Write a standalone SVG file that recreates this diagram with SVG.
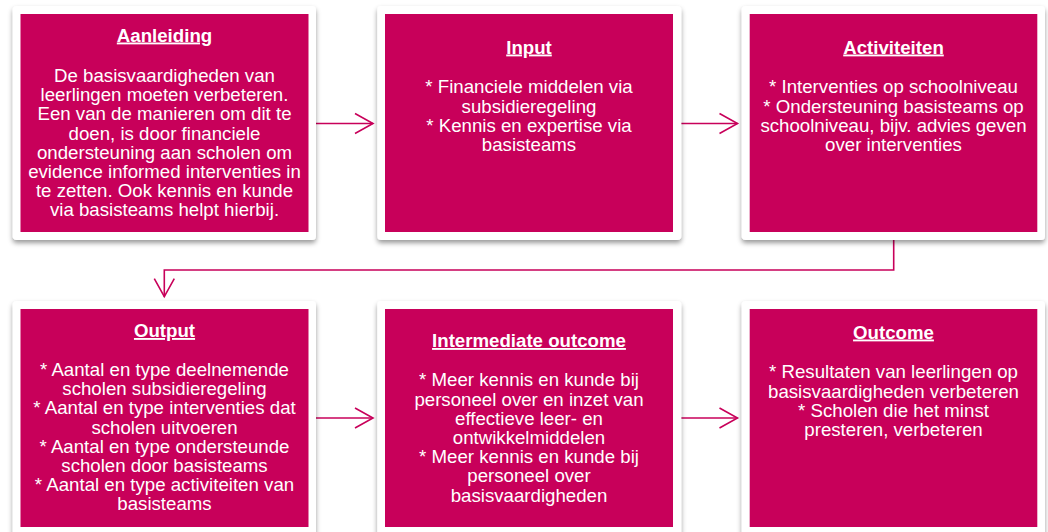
<svg xmlns="http://www.w3.org/2000/svg" width="1048" height="532" viewBox="0 0 1048 532">
  <defs>
    <filter id="sh" x="-10%" y="-10%" width="120%" height="125%">
      <feDropShadow dx="0" dy="3" stdDeviation="2.5" flood-color="#000" flood-opacity="0.4"/>
    </filter>
    <marker id="arr" markerUnits="userSpaceOnUse" markerWidth="22" markerHeight="24" viewBox="0 0 22 24" refX="20" refY="12" orient="auto">
      <path d="M2,2 L20,12 L2,22" fill="none" stroke="#C8005A" stroke-width="1.6"/>
    </marker>
    <style>
      .card { fill: #ffffff; filter: url(#sh); }
      .inner { fill: #C8005A; }
      .t { font-family: "Liberation Sans", Arial, sans-serif; font-size: 18.67px; fill: #ffffff; text-anchor: middle; }
      .h { font-weight: bold; text-decoration: underline; }
      .c { fill: none; stroke: #C8005A; stroke-width: 1.6; marker-end: url(#arr); }
    </style>
  </defs>

  <g id="connectors">
    <line class="c" x1="316" y1="123.5" x2="373" y2="123.5"/>
    <line class="c" x1="681" y1="123.5" x2="737.5" y2="123.5"/>
    <polyline class="c" points="893.7,238 893.7,270 164.3,270 164.3,296.7"/>
    <line class="c" x1="316" y1="418" x2="373" y2="418"/>
    <line class="c" x1="681" y1="418" x2="737.5" y2="418"/>
  </g>

  <g id="aanleiding">
    <rect class="card" x="12.7" y="6" width="303.3" height="234" rx="4"/>
    <rect class="inner" x="20.5" y="14" width="288" height="218"/>
    <text class="t h" x="164.5" y="41.5">Aanleiding</text>
    <text class="t" x="164.5" y="82">De basisvaardigheden van</text>
    <text class="t" x="164.5" y="101.2">leerlingen moeten verbeteren.</text>
    <text class="t" x="164.5" y="120.4">Een van de manieren om dit te</text>
    <text class="t" x="164.5" y="139.6">doen, is door financiele</text>
    <text class="t" x="164.5" y="158.8">ondersteuning aan scholen om</text>
    <text class="t" x="164.5" y="178">evidence informed interventies in</text>
    <text class="t" x="164.5" y="197.2">te zetten. Ook kennis en kunde</text>
    <text class="t" x="164.5" y="216.4">via basisteams helpt hierbij.</text>
  </g>

  <g id="input">
    <rect class="card" x="377.3" y="6" width="304" height="234" rx="4"/>
    <rect class="inner" x="385" y="14" width="288" height="218"/>
    <text class="t h" x="529" y="53.5">Input</text>
    <text class="t" x="529" y="93.3">* Financiele middelen via</text>
    <text class="t" x="529" y="112.5">subsidieregeling</text>
    <text class="t" x="529" y="131.7">* Kennis en expertise via</text>
    <text class="t" x="529" y="150.9">basisteams</text>
  </g>

  <g id="activiteiten">
    <rect class="card" x="741.7" y="6" width="303.3" height="234" rx="4"/>
    <rect class="inner" x="749.7" y="14" width="287.6" height="218"/>
    <text class="t h" x="893.5" y="53.5">Activiteiten</text>
    <text class="t" x="893.5" y="93.3">* Interventies op schoolniveau</text>
    <text class="t" x="893.5" y="112.5">* Ondersteuning basisteams op</text>
    <text class="t" x="893.5" y="131.7">schoolniveau, bijv. advies geven</text>
    <text class="t" x="893.5" y="150.9">over interventies</text>
  </g>

  <g id="output">
    <rect class="card" x="12.7" y="301" width="303.3" height="240" rx="4"/>
    <rect class="inner" x="20.5" y="309" width="288" height="218"/>
    <text class="t h" x="164.5" y="337">Output</text>
    <text class="t" x="164.5" y="376">* Aantal en type deelnemende</text>
    <text class="t" x="164.5" y="395.2">scholen subsidieregeling</text>
    <text class="t" x="164.5" y="414.4">* Aantal en type interventies dat</text>
    <text class="t" x="164.5" y="433.6">scholen uitvoeren</text>
    <text class="t" x="164.5" y="452.8">* Aantal en type ondersteunde</text>
    <text class="t" x="164.5" y="472">scholen door basisteams</text>
    <text class="t" x="164.5" y="491.2">* Aantal en type activiteiten van</text>
    <text class="t" x="164.5" y="510.4">basisteams</text>
  </g>

  <g id="intermediate-outcome">
    <rect class="card" x="377.3" y="301" width="304" height="240" rx="4"/>
    <rect class="inner" x="385" y="309" width="288" height="218"/>
    <text class="t h" x="529" y="347">Intermediate outcome</text>
    <text class="t" x="529" y="386.3">* Meer kennis en kunde bij</text>
    <text class="t" x="529" y="405.5">personeel over en inzet van</text>
    <text class="t" x="529" y="424.7">effectieve leer- en</text>
    <text class="t" x="529" y="443.9">ontwikkelmiddelen</text>
    <text class="t" x="529" y="463.1">* Meer kennis en kunde bij</text>
    <text class="t" x="529" y="482.3">personeel over</text>
    <text class="t" x="529" y="501.5">basisvaardigheden</text>
  </g>

  <g id="outcome">
    <rect class="card" x="741.7" y="301" width="303.3" height="240" rx="4"/>
    <rect class="inner" x="749.7" y="309" width="287.6" height="218"/>
    <text class="t h" x="893.5" y="338.5">Outcome</text>
    <text class="t" x="893.5" y="378.3">* Resultaten van leerlingen op</text>
    <text class="t" x="893.5" y="397.5">basisvaardigheden verbeteren</text>
    <text class="t" x="893.5" y="416.7">* Scholen die het minst</text>
    <text class="t" x="893.5" y="435.9">presteren, verbeteren</text>
  </g>
</svg>
